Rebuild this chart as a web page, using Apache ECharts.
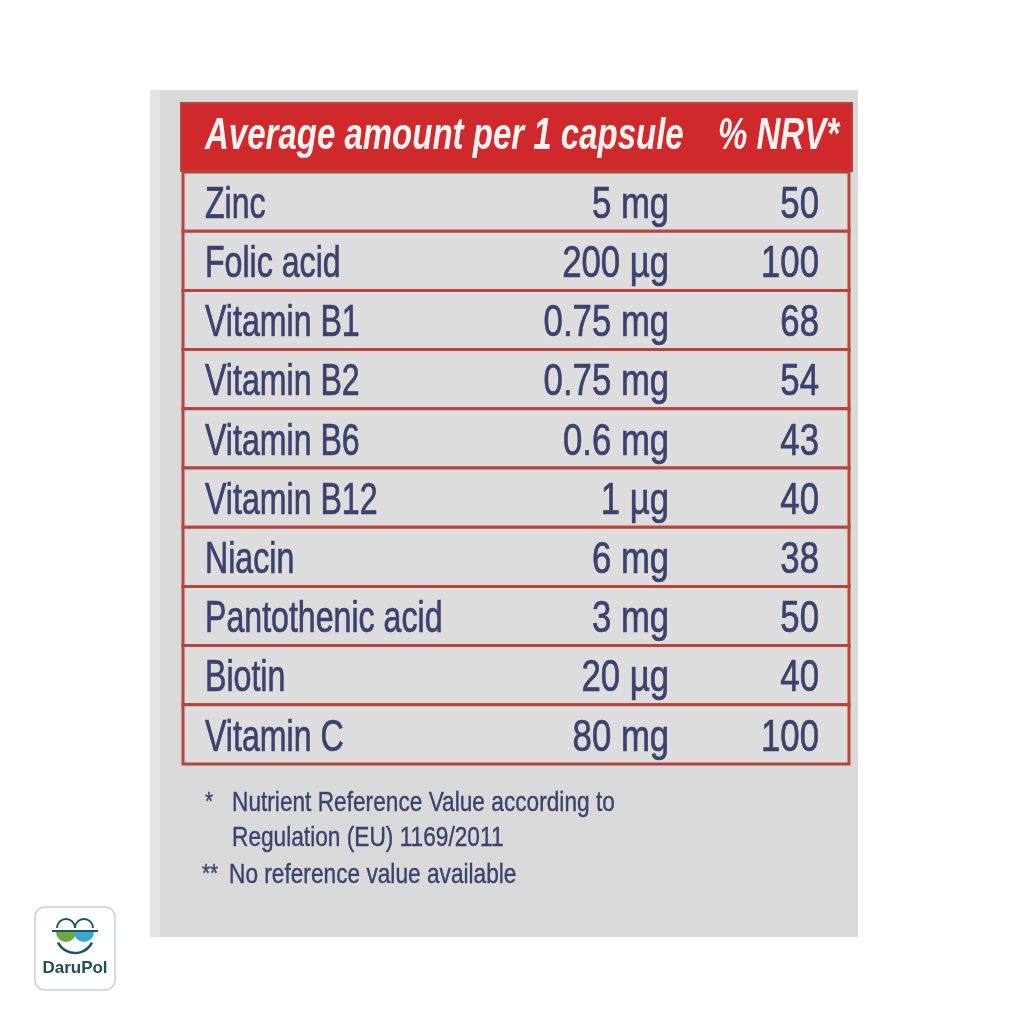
<!DOCTYPE html>
<html>
<head>
<meta charset="utf-8">
<script src="https://cdn.jsdelivr.net/npm/echarts@6/dist/echarts.min.js"></script>
<style>html,body{margin:0;padding:0;background:#fff}#c{width:1024px;height:1024px}</style>
</head>
<body>
<div id="c"></div>
<script>
const headerLeft = 'Average amount per 1 capsule';
const headerRight = '% NRV*';
const nutrients = ['Zinc','Folic acid','Vitamin B1','Vitamin B2','Vitamin B6','Vitamin B12','Niacin','Pantothenic acid','Biotin','Vitamin C'];
const amounts = ['5 mg','200 µg','0.75 mg','0.75 mg','0.6 mg','1 µg','6 mg','3 mg','20 µg','80 mg'];
const nrv = [50,100,68,54,43,40,38,50,40,100];
const footnotes = ['Nutrient Reference Value according to','Regulation (EU) 1169/2011','No reference value available'];

const chart = echarts.init(document.getElementById('c'));
const textColor = '#3c4170';
const red = '#d0292b';
const lineRed = '#b5443b';
const FONT = 'Liberation Sans, Arial, sans-serif';
const amountAnchor = 0.73;
const nrvAnchor = 0.955;

function cellText(str, x, y, sx, align) {
  return {type: 'text', x: x, y: y, scaleX: sx,
    style: {text: str, fontSize: 44, fontFamily: FONT, fill: textColor, stroke: textColor, lineWidth: 0.7,
            align: align, verticalAlign: 'middle'}};
}

function renderItem(params, api) {
  const i = params.dataIndex;
  const c0 = api.coord([0, i]);
  const c1 = api.coord([1, i]);
  const h = api.size([0, 1])[1];
  const cy = c0[1];
  const ax = api.coord([amountAnchor, i])[0];
  const nx = api.coord([nrvAnchor, i])[0];
  return {
    type: 'group',
    children: [
      {type: 'rect', shape: {x: c0[0], y: cy - h / 2, width: c1[0] - c0[0], height: h},
       style: {fill: '#dddddd', stroke: lineRed, lineWidth: 3}},
      cellText(nutrients[i], c0[0] + 22, cy + 4, 0.73, 'left'),
      cellText(amounts[i], ax, cy + 4, 0.79, 'right'),
      cellText(String(nrv[i]), nx, cy + 4, 0.79, 'right')
    ]
  };
}

const footStyle = {fontSize: 28, fontFamily: FONT, fill: textColor, stroke: textColor, lineWidth: 0.4, align: 'left', verticalAlign: 'middle'};

const option = {
  backgroundColor: '#ffffff',
  animation: false,
  grid: {left: 183, right: 175, top: 172, bottom: 260, containLabel: false},
  xAxis: {type: 'value', min: 0, max: 1, show: false},
  yAxis: {type: 'category', data: nutrients, inverse: true, show: false},
  graphic: [
    {type: 'rect', z: -10, shape: {x: 150, y: 90, width: 708, height: 847}, style: {fill: '#d9d9d9'}},
    {type: 'rect', z: -9, shape: {x: 150, y: 90, width: 10, height: 847}, style: {fill: '#e4e4e4'}},
    {type: 'rect', z: 5, shape: {x: 181, y: 103, width: 671, height: 68}, style: {fill: red, stroke: lineRed, lineWidth: 2}},
    {type: 'text', z: 6, x: 205, y: 137, scaleX: 0.75,
     style: {text: headerLeft, fontSize: 44, fontWeight: 'bold', fontStyle: 'italic', fontFamily: FONT, fill: '#fdf1f1', align: 'left', verticalAlign: 'middle'}},
    {type: 'text', z: 6, x: 839, y: 137, scaleX: 0.75,
     style: {text: headerRight, fontSize: 44, fontWeight: 'bold', fontStyle: 'italic', fontFamily: FONT, fill: '#fdf1f1', align: 'right', verticalAlign: 'middle'}},
    {type: 'text', z: 6, x: 205, y: 803, scaleX: 0.8, style: Object.assign({}, footStyle, {text: '*', fontSize: 26})},
    {type: 'text', z: 6, x: 232, y: 803, scaleX: 0.81, style: Object.assign({}, footStyle, {text: footnotes[0]})},
    {type: 'text', z: 6, x: 232, y: 838, scaleX: 0.81, style: Object.assign({}, footStyle, {text: footnotes[1]})},
    {type: 'text', z: 6, x: 202, y: 875, scaleX: 0.8, style: Object.assign({}, footStyle, {text: '**', fontSize: 26})},
    {type: 'text', z: 6, x: 229, y: 875, scaleX: 0.81, style: Object.assign({}, footStyle, {text: footnotes[2]})},
    // logo
    {type: 'rect', z: 6, shape: {x: 35, y: 907, width: 80, height: 83, r: 10}, style: {fill: '#ffffff', stroke: '#c9cfd2', lineWidth: 1.5}},
    {type: 'sector', z: 7, shape: {cx: 66, cy: 932, r0: 0, r: 10, startAngle: 0, endAngle: Math.PI}, style: {fill: '#6ea83f'}},
    {type: 'sector', z: 7, shape: {cx: 84, cy: 932, r0: 0, r: 10, startAngle: 0, endAngle: Math.PI}, style: {fill: '#37a9cf'}},
    {type: 'arc', z: 7, shape: {cx: 75, cy: 934, r: 19, startAngle: Math.PI * 0.15, endAngle: Math.PI * 0.85}, style: {stroke: '#1e5366', lineWidth: 2.5, fill: null}},
    {type: 'arc', z: 7, shape: {cx: 66, cy: 928, r: 9, startAngle: Math.PI, endAngle: Math.PI * 2}, style: {stroke: '#1e5366', lineWidth: 2, fill: null}},
    {type: 'arc', z: 7, shape: {cx: 84, cy: 928, r: 9, startAngle: Math.PI, endAngle: Math.PI * 2}, style: {stroke: '#1e5366', lineWidth: 2, fill: null}},
    {type: 'line', z: 7, shape: {x1: 52, y1: 931, x2: 98, y2: 931}, style: {stroke: '#1e5366', lineWidth: 2}},
    {type: 'text', z: 7, x: 75, y: 968, style: {text: 'DaruPol', fontSize: 17, fontWeight: 'bold', fontFamily: FONT, fill: '#1e4d5e', align: 'center', verticalAlign: 'middle'}}
  ],
  series: [{
    type: 'custom',
    renderItem: renderItem,
    encode: {x: 0, y: 1},
    data: nutrients.map((n, i) => [0, i]),
    z: 2
  }]
};
chart.setOption(option);
</script>
</body>
</html>
